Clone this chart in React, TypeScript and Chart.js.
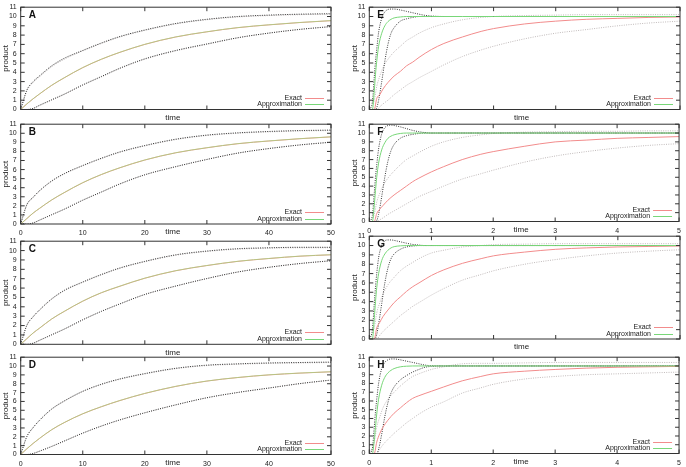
import React, { useEffect, useRef } from "react";
import { Chart, registerables } from "chart.js";
Chart.register(...registerables);

// ---------- data ----------
// left column (A-D): time 0..50
const tLeft = [0, 1, 2, 3, 5, 7, 10, 13, 16, 20, 25, 30, 35, 40, 45, 50];

const exA_mean = [0, 0.6, 1.15, 1.65, 2.6, 3.4, 4.5, 5.4, 6.15, 7.0, 7.8, 8.35, 8.8, 9.1, 9.35, 9.55];
const exA_up = [0, 2.0, 2.9, 3.5, 4.6, 5.4, 6.3, 7.1, 7.8, 8.5, 9.2, 9.65, 9.95, 10.1, 10.2, 10.25];
const exA_lo = [0, 0, 0.1, 0.4, 1.0, 1.6, 2.6, 3.5, 4.4, 5.4, 6.3, 7.0, 7.7, 8.2, 8.6, 8.9];
const apA_mean = [0, 0.61, 1.16, 1.66, 2.61, 3.41, 4.51, 5.41, 6.16, 7.01, 7.81, 8.36, 8.81, 9.11, 9.36, 9.56];
const apA_up = [0, 2.1, 3.0, 3.6, 4.7, 5.5, 6.35, 7.15, 7.85, 8.55, 9.25, 9.7, 10.0, 10.15, 10.25, 10.3];
const apA_lo = [0, 0, 0.12, 0.45, 1.05, 1.65, 2.65, 3.55, 4.45, 5.45, 6.35, 7.05, 7.72, 8.22, 8.62, 8.92];

const exB_mean = [0, 0.6, 1.2, 1.7, 2.65, 3.45, 4.55, 5.45, 6.2, 7.05, 7.85, 8.4, 8.85, 9.15, 9.4, 9.6];
const exB_up = [0, 2.1, 2.9, 3.6, 4.7, 5.5, 6.4, 7.2, 7.9, 8.6, 9.3, 9.75, 10.0, 10.15, 10.25, 10.3];
const exB_lo = [0, 0, 0.1, 0.4, 1.0, 1.6, 2.6, 3.5, 4.4, 5.4, 6.3, 7.1, 7.8, 8.3, 8.7, 9.0];
const apB_mean = [0, 0.61, 1.21, 1.71, 2.66, 3.46, 4.56, 5.46, 6.21, 7.06, 7.86, 8.41, 8.86, 9.16, 9.41, 9.61];
const apB_up = [0, 2.15, 2.95, 3.65, 4.75, 5.55, 6.45, 7.25, 7.95, 8.65, 9.35, 9.8, 10.05, 10.2, 10.3, 10.35];
const apB_lo = [0, 0, 0.12, 0.42, 1.03, 1.63, 2.63, 3.53, 4.43, 5.43, 6.33, 7.12, 7.82, 8.32, 8.72, 9.02];

const exC_mean = [0, 0.6, 1.2, 1.7, 2.7, 3.5, 4.6, 5.5, 6.2, 7.05, 7.85, 8.4, 8.85, 9.15, 9.4, 9.55];
const exC_up = [0, 2.0, 2.9, 3.6, 4.8, 5.7, 6.6, 7.4, 8.1, 8.8, 9.5, 9.9, 10.15, 10.25, 10.3, 10.3];
const exC_lo = [0, 0, 0.1, 0.4, 1.0, 1.6, 2.6, 3.5, 4.3, 5.3, 6.2, 7.0, 7.7, 8.2, 8.6, 8.9];
const apC_mean = [0, 0.61, 1.21, 1.71, 2.71, 3.51, 4.61, 5.51, 6.21, 7.06, 7.86, 8.41, 8.86, 9.16, 9.41, 9.56];
const apC_up = [0, 2.05, 2.95, 3.65, 4.85, 5.75, 6.65, 7.45, 8.15, 8.85, 9.55, 9.95, 10.2, 10.3, 10.35, 10.35];
const apC_lo = [0, 0, 0.12, 0.42, 1.02, 1.62, 2.62, 3.52, 4.32, 5.32, 6.22, 7.02, 7.72, 8.22, 8.62, 8.92];

const exD_mean = [0, 0.65, 1.25, 1.8, 2.8, 3.6, 4.6, 5.4, 6.1, 6.9, 7.7, 8.3, 8.7, 9.0, 9.2, 9.35];
const exD_up = [0, 2.0, 3.0, 3.8, 5.1, 6.0, 7.1, 7.9, 8.5, 9.1, 9.7, 10.05, 10.2, 10.3, 10.35, 10.4];
const exD_lo = [0, 0, 0.1, 0.35, 0.9, 1.5, 2.4, 3.2, 3.9, 4.7, 5.6, 6.4, 7.0, 7.5, 8.0, 8.4];
const apD_mean = [0, 0.66, 1.26, 1.81, 2.81, 3.61, 4.61, 5.41, 6.11, 6.91, 7.71, 8.31, 8.71, 9.01, 9.21, 9.36];
const apD_up = [0, 2.05, 3.05, 3.85, 5.15, 6.05, 7.15, 7.95, 8.55, 9.15, 9.75, 10.1, 10.25, 10.35, 10.4, 10.45];
const apD_lo = [0, 0, 0.12, 0.37, 0.92, 1.52, 2.42, 3.22, 3.92, 4.72, 5.62, 6.42, 7.02, 7.52, 8.02, 8.42];

// right column (E-H): time 0..5
const tFast = [0, 0.05, 0.08, 0.1, 0.12, 0.15, 0.2, 0.25, 0.3, 0.35, 0.4, 0.5, 0.6, 0.7, 0.8, 0.9, 1.0, 1.2, 1.5, 2, 3, 4, 5];
const tSlow = [0, 0.08, 0.12, 0.17, 0.22, 0.3, 0.4, 0.5, 0.6, 0.7, 0.8, 1.0, 1.2, 1.5, 1.8, 2.0, 2.5, 3.0, 3.5, 4.0, 4.5, 5.0];

const apE_mean = [0, 0, 2.0, 3.8, 5.2, 6.8, 8.2, 9.0, 9.45, 9.7, 9.85, 9.95, 10, 10, 10, 10, 10, 10, 10, 10, 10, 10, 10];
const apE_up = [0, 0.8, 3.5, 5.2, 6.5, 8.3, 9.8, 10.5, 10.75, 10.8, 10.8, 10.7, 10.55, 10.4, 10.25, 10.12, 10.05, 10, 10, 10, 10, 10, 10];
const apE_lo = [0, 0, 0, 0, 0.2, 1.0, 3.0, 5.2, 7.0, 8.2, 8.8, 9.5, 9.75, 9.9, 10, 10, 10, 10, 10, 10, 10, 10, 10];
const exE_mean = [0, 0, 1.2, 1.6, 2.2, 2.9, 3.6, 4.1, 4.7, 5.1, 5.6, 6.45, 7.1, 7.8, 8.4, 8.7, 9.2, 9.5, 9.7, 9.8, 9.9, 9.95];
const exE_up = [0, 1.0, 2.5, 3.6, 4.5, 5.4, 6.2, 6.8, 7.4, 7.8, 8.2, 8.8, 9.2, 9.65, 9.9, 10.0, 10.1, 10.15, 10.2, 10.2, 10.2, 10.2];
const exE_lo = [0, 0, 0, 0.3, 0.6, 1.0, 1.6, 2.1, 2.6, 3.0, 3.4, 4.1, 4.8, 5.7, 6.4, 6.8, 7.6, 8.2, 8.6, 9.0, 9.3, 9.5];

const apF_mean = [0, 0, 1.8, 3.5, 5.0, 6.6, 8.1, 8.9, 9.4, 9.65, 9.8, 9.95, 10, 10, 10, 10, 10, 10, 10, 10, 10, 10, 10];
const apF_up = [0, 0.7, 3.2, 5.0, 6.4, 8.2, 9.9, 10.6, 10.85, 10.9, 10.85, 10.7, 10.5, 10.3, 10.15, 10.05, 10, 10, 10, 10, 10, 10, 10];
const apF_lo = [0, 0, 0, 0, 0.1, 0.8, 2.8, 5.0, 6.8, 8.0, 8.7, 9.4, 9.7, 9.85, 9.95, 10, 10, 10, 10, 10, 10, 10, 10];
const exF_mean = [0, 0, 0.9, 1.4, 1.8, 2.4, 3.0, 3.5, 4.0, 4.5, 4.9, 5.6, 6.2, 7.0, 7.6, 7.9, 8.5, 9.0, 9.2, 9.4, 9.5, 9.6];
const exF_up = [0, 0.8, 2.2, 3.2, 4.0, 4.9, 5.7, 6.4, 7.0, 7.4, 7.8, 8.5, 9.0, 9.5, 9.8, 9.95, 10.1, 10.15, 10.2, 10.2, 10.25, 10.25];
const exF_lo = [0, 0, 0, 0.2, 0.4, 0.8, 1.2, 1.6, 2.0, 2.4, 2.8, 3.4, 4.0, 4.8, 5.4, 5.8, 6.7, 7.4, 7.9, 8.3, 8.6, 8.8];

const apG_mean = [0, 0, 2.2, 4.0, 5.5, 7.0, 8.4, 9.1, 9.5, 9.75, 9.88, 9.97, 10, 10, 10, 10, 10, 10, 10, 10, 10, 10, 10];
const apG_up = [0, 1.0, 3.8, 5.6, 7.0, 8.7, 10.0, 10.5, 10.6, 10.6, 10.55, 10.4, 10.25, 10.12, 10.05, 10, 10, 10, 10, 10, 10, 10, 10];
const apG_lo = [0, 0, 0, 0.1, 0.5, 1.6, 3.8, 6.0, 7.6, 8.6, 9.1, 9.6, 9.85, 9.95, 10, 10, 10, 10, 10, 10, 10, 10, 10];
const exG_mean = [0, 0, 1.2, 1.8, 2.4, 3.1, 3.9, 4.5, 5.1, 5.6, 6.0, 6.8, 7.4, 8.1, 8.6, 8.9, 9.3, 9.6, 9.75, 9.85, 9.9, 9.95];
const exG_up = [0, 1.2, 2.8, 3.9, 4.8, 5.8, 6.6, 7.3, 7.8, 8.2, 8.6, 9.2, 9.5, 9.85, 10.0, 10.1, 10.15, 10.2, 10.2, 10.2, 10.2, 10.2];
const exG_lo = [0, 0, 0, 0.4, 0.8, 1.3, 1.9, 2.5, 3.0, 3.5, 3.9, 4.7, 5.4, 6.3, 6.9, 7.3, 8.0, 8.5, 8.9, 9.2, 9.4, 9.55];

const apH_mean = [0, 0, 1.5, 3.0, 4.5, 6.2, 7.8, 8.7, 9.2, 9.5, 9.7, 9.9, 9.97, 10, 10, 10, 10, 10, 10, 10, 10, 10, 10];
const apH_up = [0, 0.6, 3.0, 4.8, 6.2, 8.0, 9.7, 10.4, 10.7, 10.8, 10.8, 10.7, 10.55, 10.4, 10.25, 10.1, 10.03, 10, 10, 10, 10, 10, 10];
const apH_lo = [0, 0, 0, 0, 0, 0.5, 2.2, 4.2, 5.8, 6.9, 7.6, 8.4, 8.9, 9.3, 9.6, 9.85, 9.95, 10, 10, 10, 10, 10, 10];
const exH_mean = [0, 0, 1.3, 2.3, 3.0, 3.8, 4.6, 5.2, 5.8, 6.3, 6.6, 7.1, 7.6, 8.3, 8.8, 9.1, 9.4, 9.6, 9.75, 9.85, 9.9, 9.95];
const exH_up = [0, 1.3, 3.0, 4.2, 5.2, 6.2, 7.0, 7.7, 8.3, 8.8, 9.1, 9.6, 9.9, 10.25, 10.3, 10.3, 10.35, 10.4, 10.4, 10.4, 10.4, 10.4];
const exH_lo = [0, 0, 0, 0.5, 1.0, 1.6, 2.3, 2.9, 3.5, 4.0, 4.5, 5.3, 5.9, 6.9, 7.5, 7.9, 8.5, 8.8, 9.0, 9.1, 9.2, 9.3];

const yTicksMax = 11;
const xLeftMax = 50;
const xLeftStep = 10;
const xRightMax = 5;
const xRightStep = 1;

// ---------- layout ----------
const FONT = '"Liberation Sans", Arial, Helvetica, sans-serif';

type Series = {
  exT: number[]; exMean: number[]; exUp: number[]; exLo: number[];
  apT: number[]; apMean: number[]; apUp: number[]; apLo: number[];
};

type PanelCfg = {
  letter: string; l: number; t: number; r: number; b: number;
  right: boolean; xLabels: boolean; s: Series;
};

const PANELS: PanelCfg[] = [
  { letter: "A", l: 20.7, t: 5.7, r: 331, b: 109.5, right: false, xLabels: false,
    s: { exT: tLeft, exMean: exA_mean, exUp: exA_up, exLo: exA_lo, apT: tLeft, apMean: apA_mean, apUp: apA_up, apLo: apA_lo } },
  { letter: "B", l: 20.7, t: 122.3, r: 331, b: 224, right: false, xLabels: true,
    s: { exT: tLeft, exMean: exB_mean, exUp: exB_up, exLo: exB_lo, apT: tLeft, apMean: apB_mean, apUp: apB_up, apLo: apB_lo } },
  { letter: "C", l: 20.7, t: 239, r: 331, b: 344.3, right: false, xLabels: false,
    s: { exT: tLeft, exMean: exC_mean, exUp: exC_up, exLo: exC_lo, apT: tLeft, apMean: apC_mean, apUp: apC_up, apLo: apC_lo } },
  { letter: "D", l: 20.7, t: 355.7, r: 331, b: 454.5, right: false, xLabels: true,
    s: { exT: tLeft, exMean: exD_mean, exUp: exD_up, exLo: exD_lo, apT: tLeft, apMean: apD_mean, apUp: apD_up, apLo: apD_lo } },
  { letter: "E", l: 369.3, t: 5.7, r: 680, b: 109.5, right: true, xLabels: false,
    s: { exT: tSlow, exMean: exE_mean, exUp: exE_up, exLo: exE_lo, apT: tFast, apMean: apE_mean, apUp: apE_up, apLo: apE_lo } },
  { letter: "F", l: 369.3, t: 122.3, r: 680, b: 221.5, right: true, xLabels: true,
    s: { exT: tSlow, exMean: exF_mean, exUp: exF_up, exLo: exF_lo, apT: tFast, apMean: apF_mean, apUp: apF_up, apLo: apF_lo } },
  { letter: "G", l: 369.3, t: 234, r: 680, b: 339, right: true, xLabels: false,
    s: { exT: tSlow, exMean: exG_mean, exUp: exG_up, exLo: exG_lo, apT: tFast, apMean: apG_mean, apUp: apG_up, apLo: apG_lo } },
  { letter: "H", l: 369.3, t: 355.7, r: 680, b: 453.5, right: true, xLabels: true,
    s: { exT: tSlow, exMean: exH_mean, exUp: exH_up, exLo: exH_lo, apT: tFast, apMean: apH_mean, apUp: apH_up, apLo: apH_lo } },
];

const PINK = "rgb(242,140,140)";
const GREEN = "rgb(120,215,120)";
const GREEN_OVER = "rgba(150,225,125,0.65)";
const LIGHT = "rgb(192,186,186)";
const DARK = "rgb(55,55,55)";

function pts(t: number[], v: number[]) {
  return v.map((y, i) => ({ x: t[i], y }));
}

function Panel({ cfg }: { cfg: PanelCfg }) {
  const ref = useRef<HTMLCanvasElement>(null);
  const cLeft = cfg.right ? 345 : 0;
  const cWidth = cfg.right ? 341 : 345;
  const cTop = Math.floor(cfg.t) - 6;
  const cBottom = Math.ceil(cfg.b) + 16;
  const cHeight = cBottom - cTop;

  useEffect(() => {
    const s = cfg.s;
    const xMax = cfg.right ? xRightMax : xLeftMax;
    const xStep = cfg.right ? xRightStep : xLeftStep;
    const dotted = [1, 1.3];
    // lower "order" is drawn on top
    const ds = (data: any, color: string, dash: number[], w: number, order: number) => ({
      data, borderColor: color, borderDash: dash, borderWidth: w, order,
      pointRadius: 0, fill: false, cubicInterpolationMode: "monotone" as const,
    });
    const decor = {
      id: "decor",
      afterDraw(chart: any) {
        const { ctx, chartArea: a, scales } = chart;
        const xs = scales.x, ys = scales.y;
        ctx.save();
        ctx.strokeStyle = "#333";
        ctx.lineWidth = 1;
        ctx.setLineDash([]);
        ctx.strokeRect(a.left, a.top, a.right - a.left, a.bottom - a.top);
        ctx.beginPath();
        for (const tk of xs.ticks) {
          const px = xs.getPixelForValue(tk.value);
          ctx.moveTo(px, a.bottom); ctx.lineTo(px, a.bottom - 4);
          ctx.moveTo(px, a.top); ctx.lineTo(px, a.top + 4);
        }
        for (const tk of ys.ticks) {
          const py = ys.getPixelForValue(tk.value);
          ctx.moveTo(a.left, py); ctx.lineTo(a.left + 4, py);
          ctx.moveTo(a.right, py); ctx.lineTo(a.right - 4, py);
        }
        ctx.stroke();
        // panel letter
        ctx.fillStyle = "#111";
        ctx.font = `bold 10px ${FONT}`;
        ctx.textAlign = "left";
        ctx.textBaseline = "middle";
        ctx.fillText(cfg.letter, a.left + 8, a.top + 8.5);
        // axis titles
        ctx.font = `8px ${FONT}`;
        ctx.fillStyle = "#222";
        ctx.textAlign = "center";
        ctx.fillText("time", (a.left + a.right) / 2 - 3, a.bottom + 8);
        ctx.save();
        ctx.translate(a.left - 15, (a.top + a.bottom) / 2);
        ctx.rotate(-Math.PI / 2);
        ctx.fillText("product", 0, 0);
        ctx.restore();
        // legend
        ctx.font = `7px ${FONT}`;
        ctx.textAlign = "right";
        const y1 = Math.round(a.bottom - 12) + 0.5;
        const y2 = Math.round(a.bottom - 5.5) + 0.5;
        ctx.fillText("Exact", a.right - 29, y1);
        ctx.fillText("Approximation", a.right - 29, y2);
        ctx.lineWidth = 1;
        ctx.strokeStyle = PINK;
        ctx.beginPath(); ctx.moveTo(a.right - 26, y1); ctx.lineTo(a.right - 7, y1); ctx.stroke();
        ctx.strokeStyle = GREEN;
        ctx.beginPath(); ctx.moveTo(a.right - 26, y2); ctx.lineTo(a.right - 7, y2); ctx.stroke();
        ctx.restore();
      },
    };
    const chart = new Chart(ref.current as HTMLCanvasElement, {
      type: "line",
      data: {
        datasets: [
          ds(pts(s.exT, s.exUp), LIGHT, dotted, 1, 5),
          ds(pts(s.exT, s.exLo), LIGHT, dotted, 1, 4),
          ds(pts(s.apT, s.apUp), DARK, dotted, 1, 3),
          ds(pts(s.apT, s.apLo), DARK, dotted, 1, 2),
          ds(pts(s.exT, s.exMean), PINK, [], 1, 1),
          ds(pts(s.apT, s.apMean), cfg.right ? GREEN : GREEN_OVER, [], 1, 0),
        ] as any,
      },
      options: {
        animation: false,
        responsive: false,
        devicePixelRatio: 1,
        layout: { padding: { top: cfg.t - cTop, right: cLeft + cWidth - cfg.r, left: 0, bottom: 0 } },
        plugins: { legend: { display: false }, tooltip: { enabled: false } },
        scales: {
          x: {
            type: "linear", min: 0, max: xMax,
            grid: { display: false, drawTicks: false },
            border: { display: false },
            ticks: {
              display: cfg.xLabels, stepSize: xStep, autoSkip: false, maxRotation: 0,
              padding: 5, font: { family: FONT, size: 7 }, color: "#222",
            },
            afterFit: (sc: any) => { sc.height = cBottom - cfg.b; },
          },
          y: {
            type: "linear", min: 0, max: yTicksMax,
            grid: { display: false, drawTicks: false },
            border: { display: false },
            ticks: { stepSize: 1, autoSkip: false, padding: 4, font: { family: FONT, size: 7 }, color: "#222" },
            afterFit: (sc: any) => { sc.width = cfg.l - cLeft; },
          },
        },
      } as any,
      plugins: [decor],
    });
    return () => chart.destroy();
  }, []);

  return (
    <canvas
      ref={ref}
      width={cWidth}
      height={cHeight}
      style={{ position: "absolute", left: cLeft, top: cTop, width: cWidth, height: cHeight }}
    />
  );
}

export default function App() {
  return (
    <div style={{ position: "absolute", left: 0, top: 0, width: 686, height: 467, background: "#fff", overflow: "hidden" }}>
      {PANELS.map((p) => (
        <Panel key={p.letter} cfg={p} />
      ))}
    </div>
  );
}
